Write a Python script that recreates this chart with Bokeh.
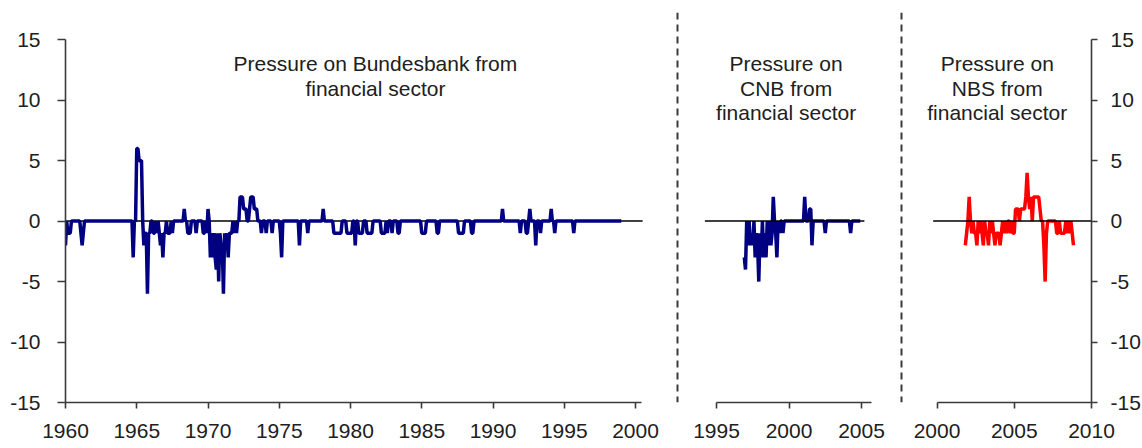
from bokeh.plotting import figure
from bokeh.layouts import row
from bokeh.models import Range1d, FixedTicker, Span, Label
from bokeh.embed import file_html
from bokeh.resources import INLINE

# ---------------- data ----------------
# Bundesbank: monthly values, Jan 1960 .. Dec 1998, then Jan 1999
bb_start = (1960, 1)
bb_values = [
    -2, 0, -1, -1, -1, 0, 0, 0, 0, 0, 0, 0,          # 1960
    0, -1, -2, -1, 0, 0, 0, 0, 0, 0, 0, 0,           # 1961
    0, 0, 0, 0, 0, 0, 0, 0, 0, 0, 0, 0,              # 1962
    0, 0, 0, 0, 0, 0, 0, 0, 0, 0, 0, 0,              # 1963
    0, 0, 0, 0, 0, 0, 0, 0, 0, -3, 0, 0,             # 1964
    6, 6, 5, 5, 5, 0, -2, -1, -1, -6, -1, -1,        # 1965
    0, 0, -1, -1, 0, -1, 0, -1, -2, -1, -3, -1,      # 1966
    -1, 0, -1, -1, -1, 0, -1, 0, 0, 0, 0, 0,         # 1967
    0, 0, 0, 0, 1, 0, 0, -1, -1, -1, 0, 0,           # 1968
    0, 0, -1, 0, 0, 0, 0, 0, -1, -1, 0, -1,          # 1969
    1, 0, -3, -1, -3, -1, -3, -4, -1, -5, -1, -2,    # 1970
    -2, -6, -1, -2, -1, -3, -1, -1, -1, 0, -1, 0,    # 1971
    -1, 0, 0, 2, 2, 2, 1, 1, 1, 0, 0, 1,             # 1972
    2, 2, 2, 1, 1, 1, 0, 0, 0, -1, 0, 0,             # 1973
    0, -1, 0, 0, 0, 0, -1, 0, 0, 0, 0, 0,            # 1974
    0, -1, -3, 0, 0, 0, 0, 0, 0, 0, 0, 0,            # 1975
    0, 0, 0, 0, 0, -2, 0, 0, 0, 0, 0, 0,             # 1976
    -1, 0, 0, 0, 0, 0, 0, 0, 0, 0, 0, 0,             # 1977
    0, 1, 0, 0, 0, 0, 0, 0, 0, 0, -1, -1,            # 1978
    -1, -1, -1, -1, -1, 0, 0, 0, 0, -1, -1, -1,      # 1979
    -1, -1, 0, 0, -2, 0, 0, -1, -1, -1, -1, 0,       # 1980
    0, 0, -1, -1, -1, -1, -1, 0, 0, 0, 0, 0,         # 1981
    0, 0, -1, -1, -1, -1, 0, -1, 0, 0, 0, -1,        # 1982
    0, 0, 0, 0, -1, -1, 0, 0, 0, 0, 0, 0,            # 1983
    0, 0, 0, 0, 0, 0, 0, 0, 0, 0, 0, 0,              # 1984
    -1, -1, -1, -1, 0, 0, 0, 0, 0, 0, 0, 0,          # 1985
    0, -1, -1, 0, 0, 0, 0, 0, 0, 0, 0, 0,            # 1986
    0, 0, 0, 0, 0, 0, 0, -1, -1, -1, -1, -1,         # 1987
    0, 0, 0, 0, 0, 0, -1, -1, 0, 0, 0, 0,            # 1988
    0, 0, 0, 0, 0, 0, 0, 0, 0, 0, 0, 0,              # 1989
    0, 0, 0, 0, 0, 0, 0, 0, 1, 0, 0, 0,              # 1990
    0, 0, 0, 0, 0, 0, 0, 0, 0, 0, 0, -1,             # 1991
    0, 0, 0, 0, -1, -1, 0, 1, 0, 0, 0, 0,            # 1992
    -2, 0, 0, 0, -1, 0, 0, 0, 0, 0, 0, 0,            # 1993
    0, 1, 0, 0, -1, 0, 0, 0, 0, 0, 0, 0,             # 1994
    0, 0, 0, 0, 0, 0, 0, 0, -1, 0, 0, 0,             # 1995
    0, 0, 0, 0, 0, 0, 0, 0, 0, 0, 0, 0,              # 1996
    0, 0, 0, 0, 0, 0, 0, 0, 0, 0, 0, 0,              # 1997
    0, 0, 0, 0, 0, 0, 0, 0, 0, 0, 0, 0,              # 1998
    0,                                               # 1999 Jan
]

# CNB: monthly values, Dec 1996 .. Dec 2004
cnb_start = (1996, 12)
cnb_values = [
    -3,                                              # 1996 Dec
    -4, 0, -2, 0, -2, -1, -2, 0, -3, -1, -2, -5,     # 1997
    -1, -3, 0, -3, -1, -3, 0, -2, 0, -2, -1, 2,      # 1998
    0, -1, -3, 0, -1, 0, 0, -1, 0, 0, 0, 0,          # 1999
    0, 0, 0, 0, 0, 0, 0, 0, 0, 0, 0, 0,              # 2000
    0, 2, 0, 0, 0, 1, 1, -2, 0, 0, 0, 0,             # 2001
    0, 0, 0, 0, 0, 0, -1, 0, 0, 0, 0, 0,             # 2002
    0, 0, 0, 0, 0, 0, 0, 0, 0, 0, 0, 0,              # 2003
    0, 0, 0, -1, 0, 0, 0, 0, 0, 0, 0, 0,             # 2004
]

# NBS: monthly values, Nov 2001 .. Nov 2008
nbs_start = (2001, 11)
nbs_values = [
    -2, -1,                                          # 2001 Nov-Dec
    0, 2, 0, -1, 0, -1, -1, -2, 0, -1, 0, -1,        # 2002
    -2, 0, -1, -1, -2, 0, -1, 0, -1, -2, -1, -1,     # 2003
    -1, -2, -1, 0, -1, 0, -1, 0, 0, -1, 0, -1,       # 2004
    -1, 1, 1, 1, 0, 1, 1, 1, 1, 2, 4, 2,             # 2005
    1, 2, 0, 2, 2, 2, 2, 2, 1, 0, 0, -2,             # 2006
    -5, -1, 0, 0, 0, 0, 0, 0, 0, -1, -1, 0,          # 2007
    -1, -1, -1, -1, 0, -1, 0, -1, 0, -1, -2,         # 2008 Jan-Nov
]

y_ticks = [-15, -10, -5, 0, 5, 10, 15]
y_tick_labels = ["-15", "-10", "-5", "0", "5", "10", "15"]
bb_ticks = [1960, 1965, 1970, 1975, 1980, 1985, 1990, 1995, 2000]
cnb_ticks = [1995, 2000, 2005]
nbs_ticks = [2000, 2005, 2010]

bb_title = ["Pressure on Bundesbank from", "financial sector"]
cnb_title = ["Pressure on", "CNB from", "financial sector"]
nbs_title = ["Pressure on", "NBS from", "financial sector"]


def monthly(start, vals):
    y0, m0 = start
    return [y0 + (m0 - 1 + i) / 12 for i in range(len(vals))]


bb_x = monthly(bb_start, bb_values)
cnb_x = monthly(cnb_start, cnb_values)
nbs_x = monthly(nbs_start, nbs_values)

# ---------------- styling ----------------
FONT = "Liberation Sans"
TXT = "#202020"
AX = "#3a3a3a"
FRAME_H = 390
Y_END = 17.25
NAVY = "#000080"
LW = 3.5


def make_fig(frame_w, xr, left, right, yloc):
    p = figure(frame_width=frame_w, frame_height=FRAME_H, x_range=xr,
               y_range=Range1d(-15, Y_END), output_backend="svg",
               toolbar_location=None, min_border_left=left,
               min_border_right=right, min_border_top=12, min_border_bottom=46,
               y_axis_location=yloc)
    p.outline_line_color = None
    p.xgrid.visible = False
    p.ygrid.visible = False
    p.background_fill_color = "white"
    p.border_fill_color = "white"
    return p


def style_axis(ax, ticks, labels, bounds, tick_out, standoff):
    ax.ticker = FixedTicker(ticks=ticks)
    ax.major_label_overrides = {t: l for t, l in zip(ticks, labels)}
    ax.bounds = bounds
    ax.axis_line_color = AX
    ax.axis_line_width = 1.6
    ax.major_tick_line_color = AX
    ax.major_tick_line_width = 1.6
    ax.major_tick_in = 0
    ax.major_tick_out = tick_out
    ax.minor_tick_line_color = None
    ax.major_label_text_font = FONT
    ax.major_label_text_font_size = "21px"
    ax.major_label_text_color = TXT
    ax.major_label_standoff = standoff


def add_title(p, x, lines, y_top):
    for i, t in enumerate(lines):
        p.add_layout(Label(x=x, y=y_top - 2 * i, text=t, text_align="center",
                           text_baseline="middle", text_font=FONT,
                           text_font_size="21px", text_color=TXT))


def sep(p, loc):
    p.add_layout(Span(location=loc, dimension="height", line_color=AX,
                      line_width=2, line_dash="7 5"))

# Panel 1: Bundesbank
p1 = make_fig(616, Range1d(1960, 1960 + 616 / 14.25), 65, 0, "left")
style_axis(p1.xaxis[0], bb_ticks, [str(t) for t in bb_ticks], (1960, 2000.4), 6, 15)
style_axis(p1.yaxis[0], y_ticks, y_tick_labels, (-15, 15), 8, 17)
p1.line([1960, 2000.5], [0, 0], line_color="black", line_width=1.5)
p1.line(bb_x, bb_values, line_color=NAVY, line_width=LW)
add_title(p1, 1981.75, bb_title, 13)
sep(p1, 1960 + 612 / 14.25)

# Panel 2: CNB
c_start = 1995 - 35 / 14.5
p2 = make_fig(223, Range1d(c_start, c_start + 223 / 14.5), 0, 0, None)
style_axis(p2.xaxis[0], cnb_ticks, [str(t) for t in cnb_ticks], (1995, 2005.7), 6, 15)
p2.line(cnb_x, cnb_values, line_color=NAVY, line_width=LW)
p2.line([1994.2, 2005.2], [0, 0], line_color="black", line_width=1.5)
add_title(p2, 1999.8, cnb_title, 13)
sep(p2, 1995 + 185 / 14.5)

# Panel 3: NBS
p3 = make_fig(187, Range1d(2010 - 187 / 15.45, 2010), 0, 51, "right")
style_axis(p3.xaxis[0], nbs_ticks, [str(t) for t in nbs_ticks], (2000, 2010), 6, 15)
style_axis(p3.yaxis[0], y_ticks, y_tick_labels, (-15, 15), 6, 13)
p3.line(nbs_x, nbs_values, line_color="#ff0000", line_width=LW)
p3.line([1999.75, 2010], [0, 0], line_color="black", line_width=1.5)
add_title(p3, 2003.9, nbs_title, 13)

layout = row(p1, p2, p3, spacing=0)
open("out.html", "w").write(file_html(layout, INLINE))
